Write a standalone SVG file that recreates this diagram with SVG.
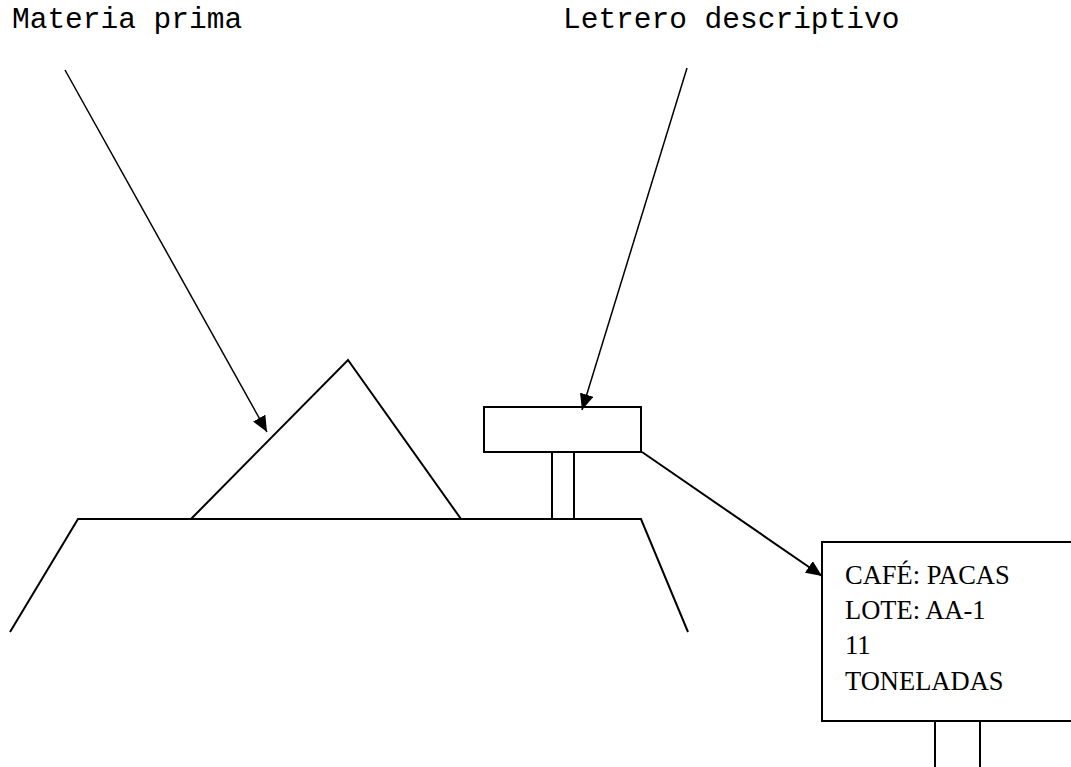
<svg xmlns="http://www.w3.org/2000/svg" width="1071" height="767" viewBox="0 0 1071 767">
  <style>
    .shape { fill: none; stroke: #000; stroke-width: 2; stroke-linejoin: miter; }
    .box { fill: #fff; stroke: #000; stroke-width: 2; }
    .conn { fill: none; stroke: #000; stroke-width: 1.5; }
    .conn.thick { stroke-width: 2; }
    .label { font-family: "Liberation Mono", "Courier New", monospace; font-size: 29.5px; fill: #000; }
    .sign { font-family: "Liberation Serif", "Times New Roman", serif; font-size: 26.5px; fill: #000; }
  </style>
  <defs>
    <marker id="arrow" markerUnits="userSpaceOnUse" markerWidth="18" markerHeight="14" refX="16" refY="7" orient="auto">
      <path d="M0,0 L16,7 L0,14 Z" fill="#000"/>
    </marker>
  </defs>

  <rect width="1071" height="767" fill="#fff"/>

  <!-- Labels -->
  <text class="label" x="12" y="28">Materia prima</text>
  <text class="label" x="563" y="28">Letrero descriptivo</text>

  <!-- Ground platform -->
  <g id="platform">
    <polyline class="shape" points="10,632 78,519 641,519 688,632"/>
  </g>

  <!-- Raw material pile -->
  <g id="pile">
    <polyline class="shape" points="191,519 348,360 461,519"/>
  </g>

  <!-- Small sign on the platform -->
  <g id="small-sign">
    <rect class="shape" x="552" y="452" width="22" height="67"/>
    <rect class="box" x="484" y="407" width="157" height="45"/>
  </g>

  <!-- Large sign with lot data -->
  <g id="big-sign">
    <line class="shape" x1="935" y1="721" x2="935" y2="767"/>
    <line class="shape" x1="980" y1="721" x2="980" y2="767"/>
    <rect class="box" x="822" y="542" width="260" height="179"/>
    <text class="sign" x="845" y="584">CAFÉ: PACAS</text>
    <text class="sign" x="845" y="619">LOTE: AA-1</text>
    <text class="sign" x="845" y="654">11</text>
    <text class="sign" x="845" y="690">TONELADAS</text>
  </g>

  <!-- Connectors -->
  <g id="connectors">
    <line class="conn" x1="65" y1="70" x2="267" y2="432" marker-end="url(#arrow)"/>
    <line class="conn" x1="687" y1="68" x2="582" y2="410" marker-end="url(#arrow)"/>
    <line class="conn thick" x1="642" y1="452" x2="822" y2="576" marker-end="url(#arrow)"/>
  </g>
</svg>
